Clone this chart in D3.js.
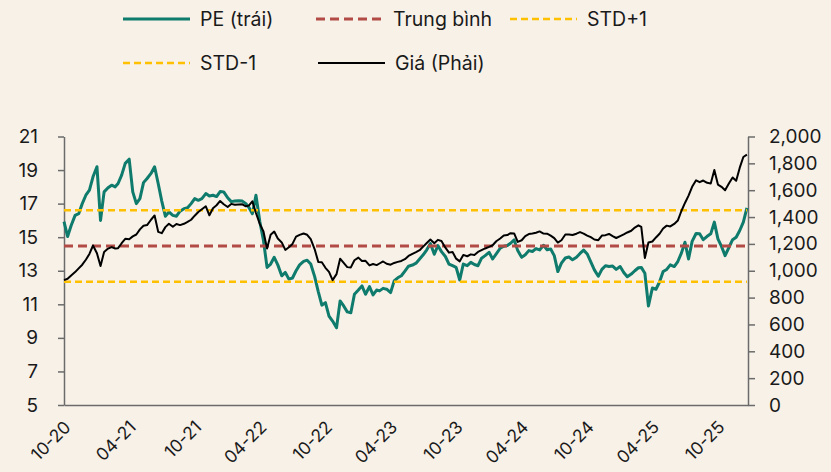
<!DOCTYPE html>
<html><head><meta charset="utf-8">
<script src="https://cdn.jsdelivr.net/npm/d3@7"></script>
<style>
html,body{margin:0;padding:0;background:#F7F1E8;}
svg{display:block;}
text{font-family:Inter,"Noto Sans",sans-serif;fill:#1a1a1a;}
</style></head>
<body>
<svg id="chart" width="831" height="472"></svg>
<script>
const dates = [
"2020-10-01","2020-10-11","2020-10-21","2020-11-01","2020-11-11","2020-11-21","2020-12-01","2020-12-11","2020-12-21",
"2021-01-01","2021-01-11","2021-01-21","2021-02-01","2021-02-11","2021-02-21","2021-03-01","2021-03-11","2021-03-21",
"2021-04-01","2021-04-11","2021-04-21","2021-05-01","2021-05-11","2021-05-21","2021-06-01","2021-06-11","2021-06-21",
"2021-07-01","2021-07-11","2021-07-21","2021-08-01","2021-08-11","2021-08-21","2021-09-01","2021-09-11","2021-09-21",
"2021-10-01","2021-10-11","2021-10-21","2021-11-01","2021-11-11","2021-11-21","2021-12-01","2021-12-11","2021-12-21",
"2022-01-01","2022-01-11","2022-01-21","2022-02-01","2022-02-11","2022-02-21","2022-03-01","2022-03-11","2022-03-21",
"2022-04-01","2022-04-11","2022-04-21","2022-05-01","2022-05-11","2022-05-21","2022-06-01","2022-06-11","2022-06-21",
"2022-07-01","2022-07-11","2022-07-21","2022-08-01","2022-08-11","2022-08-21","2022-09-01","2022-09-11","2022-09-21",
"2022-10-01","2022-10-11","2022-10-21","2022-11-01","2022-11-11","2022-11-21","2022-12-01","2022-12-11","2022-12-21",
"2023-01-01","2023-01-11","2023-01-21","2023-02-01","2023-02-11","2023-02-21","2023-03-01","2023-03-11","2023-03-21",
"2023-04-01","2023-04-11","2023-04-21","2023-05-01","2023-05-11","2023-05-21","2023-06-01","2023-06-11","2023-06-21",
"2023-07-01","2023-07-11","2023-07-21","2023-08-01","2023-08-11","2023-08-21","2023-09-01","2023-09-11","2023-09-21",
"2023-10-01","2023-10-11","2023-10-21","2023-11-01","2023-11-11","2023-11-21","2023-12-01","2023-12-11","2023-12-21",
"2024-01-01","2024-01-11","2024-01-21","2024-02-01","2024-02-11","2024-02-21","2024-03-01","2024-03-11","2024-03-21",
"2024-04-01","2024-04-11","2024-04-21","2024-05-01","2024-05-11","2024-05-21","2024-06-01","2024-06-11","2024-06-21",
"2024-07-01","2024-07-11","2024-07-21","2024-08-01","2024-08-11","2024-08-21","2024-09-01","2024-09-11","2024-09-21",
"2024-10-01","2024-10-11","2024-10-21","2024-11-01","2024-11-11","2024-11-21","2024-12-01","2024-12-11","2024-12-21",
"2025-01-01","2025-01-11","2025-01-21","2025-02-01","2025-02-11","2025-02-21","2025-03-01","2025-03-11","2025-03-21",
"2025-04-01","2025-04-11","2025-04-21","2025-05-01","2025-05-11","2025-05-21","2025-06-01","2025-06-11","2025-06-21",
"2025-07-01","2025-07-11","2025-07-21","2025-08-01","2025-08-11","2025-08-21","2025-09-01","2025-09-11","2025-09-21",
"2025-10-01","2025-10-11","2025-10-21","2025-11-01","2025-11-11","2025-11-21","2025-12-01","2025-12-11","2025-12-21"
];

const pe = [
15.93,15.04,15.7, 16.3,16.4,17.0, 17.5,17.8,18.6,
19.2,16.0,17.7, 17.95,18.1,18.0, 18.2,18.7,19.4,
19.65,17.7,17.0, 17.3,18.25,18.5, 18.8,19.2,18.2,
17.15,16.25,16.5, 16.3,16.25,16.55, 16.7,16.75,17.0,
17.3,17.2,17.3, 17.6,17.45,17.5, 17.42,17.72,17.7,
17.35,17.12,17.15, 17.17,17.15,17.0, 16.78,16.4,17.5,
15.9,14.8,13.2, 13.4,13.8,13.35, 12.7,12.9,12.5,
12.57,13.0,13.35, 13.56,13.63,13.4, 12.65,11.76,10.95,
11.1,10.3,10.0, 9.6,11.2,10.9, 10.55,10.5,11.6,
11.85,12.1,11.6, 12.05,11.56,11.85, 11.8,11.95,11.9,
11.7,12.4,12.58, 12.7,12.98,13.27, 13.34,13.45,13.7,
13.95,14.25,14.62, 13.98,14.5,14.14, 13.85,13.4,13.3,
13.2,12.45,13.4, 13.3,13.5,13.37, 13.3,13.75,13.9,
14.1,13.7,14.0, 14.34,14.46,14.5, 14.64,14.84,14.2,
13.8,13.95,14.2, 14.15,14.32,14.24, 14.52,14.25,14.3,
13.9,12.95,13.45, 13.76,13.82,13.65, 13.8,14.03,14.23,
14.0,13.53,13.05, 12.67,13.08,13.3, 13.25,13.28,13.08,
13.25,12.9,12.64, 12.8,13.0,13.18, 13.2,12.85,10.9,
11.97,11.9,12.33, 12.95,13.08,13.35, 13.25,13.55,14.05,
14.7,13.7,14.75, 15.22,15.2,14.85, 15.05,15.2,15.9,
14.9,14.45,13.9, 14.4,14.85,15.0, 15.4,15.9,16.75
];

const price = [
930,940,965, 990,1018,1045, 1082,1125,1188,
1130,1035,1140, 1165,1176,1166, 1168,1205,1238,
1235,1256,1270, 1308,1335,1340, 1380,1412,1290,
1280,1325,1350, 1328,1348,1340, 1350,1364,1380,
1410,1438,1458, 1480,1413,1466, 1488,1520,1495,
1475,1498,1492, 1494,1495,1480, 1485,1517,1430,
1347,1292,1165, 1268,1292,1240, 1211,1155,1175,
1200,1254,1267, 1277,1268,1235, 1160,1066,1063,
1022,992,930, 975,1090,1058, 1027,1025,1078,
1098,1072,1074, 1040,1050,1042, 1054,1069,1052,
1045,1058,1066, 1073,1086,1110, 1126,1139,1153,
1180,1207,1232, 1205,1230,1222, 1172,1135,1140,
1090,1070,1118, 1108,1122,1118, 1140,1153,1166,
1178,1190,1220, 1240,1262,1266, 1280,1278,1215,
1227,1258,1273, 1277,1283,1293, 1277,1276,1262,
1243,1210,1227, 1270,1270,1266, 1276,1288,1277,
1262,1250,1233, 1228,1262,1265, 1274,1258,1244,
1258,1271,1285, 1298,1322,1338, 1326,1095,1210,
1218,1248,1276, 1315,1336,1330, 1349,1374,1445,
1505,1560,1625, 1674,1660,1672, 1655,1650,1750,
1642,1625,1600, 1652,1695,1670, 1768,1847,1865
];

const peMean = 14.48;
const peStdUp = 16.61;
const peStdDown = 12.35;

const xTickDates = ["2020-10-01","2021-04-01","2021-10-01","2022-04-01","2022-10-01","2023-04-01","2023-10-01","2024-04-01","2024-10-01","2025-04-01","2025-10-01"];
const xTickLabels = ["10-20","04-21","10-21","04-22","10-22","04-23","10-23","04-24","10-24","04-25","10-25"];
const leftTicks = [5,7,9,11,13,15,17,19,21];
const rightTicks = [0,200,400,600,800,1000,1200,1400,1600,1800,2000];

const legendRows = [
  [{name:"PE (trái)",key:"pe"},{name:"Trung bình",key:"mean"},{name:"STD+1",key:"up"}],
  [{name:"STD-1",key:"down"},{name:"Giá (Phải)",key:"price"}]
];

const styles = {
  pe:{color:"#0F7B6C",width:3,dash:null},
  mean:{color:"#B24A45",width:3,dash:"9,5"},
  up:{color:"#FFC000",width:2.5,dash:"7,4"},
  down:{color:"#FFC000",width:2.5,dash:"7,4"},
  price:{color:"#000000",width:2,dash:null}
};

const svg = d3.select("#chart");
const parse = d3.utcParse("%Y-%m-%d");
const X0=64, X1=748, YB=405, YT=136.5;

const x = d3.scaleUtc().domain([parse("2020-10-01"), parse("2025-12-24")]).range([X0,X1]);
const yL = d3.scaleLinear().domain([5,21]).range([YB,YT]);
const yR = d3.scaleLinear().domain([0,2000]).range([YB,YT]);

const peData = dates.map((d,i)=>({d:parse(d),v:pe[i]}));
const prData = dates.map((d,i)=>({d:parse(d),v:price[i]}));

const axisColor = "#6b6b6b";

const gL = svg.append("g").attr("transform",`translate(${X0},0)`)
  .call(d3.axisLeft(yL).tickValues(leftTicks).tickSize(6).tickSizeOuter(0).tickPadding(20));
const gR = svg.append("g").attr("transform",`translate(${X1},0)`)
  .call(d3.axisRight(yR).tickValues(rightTicks).tickSize(7).tickSizeOuter(0).tickPadding(14).tickFormat(d3.format(",")));
[gL,gR].forEach(g=>{
  g.select(".domain").attr("stroke",axisColor).attr("stroke-width",1.5);
  g.selectAll(".tick line").attr("stroke",axisColor).attr("stroke-width",1.5);
  g.selectAll(".tick text").attr("font-size",19).attr("fill","#1a1a1a").style("font-family","Inter");
});

const gB = svg.append("g").attr("transform",`translate(0,${YB})`)
  .call(d3.axisBottom(x).tickValues(xTickDates.map(parse)).tickSize(0).tickSizeOuter(0)
    .tickFormat((d,i)=>xTickLabels[i]));
gB.select(".domain").attr("stroke",axisColor).attr("stroke-width",1.5);
gB.selectAll(".tick text")
  .attr("font-size",17.5).style("font-family","Inter").attr("fill","#1a1a1a")
  .attr("text-anchor","end")
  .attr("transform","translate(3,19) rotate(-45)")
  .attr("dy","0.35em").attr("y",0).attr("x",0);

const lineL = d3.line().x(d=>x(d.d)).y(d=>yL(d.v));
const lineR = d3.line().x(d=>x(d.d)).y(d=>yR(d.v));
svg.append("path").datum(peData).attr("d",lineL)
  .attr("fill","none").attr("stroke",styles.pe.color).attr("stroke-width",styles.pe.width).attr("stroke-linejoin","round");

const refEnd = parse("2025-12-21");
[["mean",peMean],["up",peStdUp],["down",peStdDown]].forEach(([k,v])=>{
  svg.append("path").datum([{d:parse("2020-10-01"),v},{d:refEnd,v}]).attr("d",lineL)
    .attr("fill","none").attr("stroke",styles[k].color).attr("stroke-width",styles[k].width)
    .attr("stroke-dasharray",styles[k].dash);
});

svg.append("path").datum(prData).attr("d",lineR)
  .attr("fill","none").attr("stroke",styles.price.color).attr("stroke-width",styles.price.width).attr("stroke-linejoin","round");

const legX = [[123,316,510],[123,318]];
const legY = [19,63];
legendRows.forEach((row,ri)=>{
  row.forEach((it,ci)=>{
    const s = styles[it.key];
    const lx = legX[ri][ci];
    svg.append("line").attr("x1",lx).attr("x2",lx+67).attr("y1",legY[ri]).attr("y2",legY[ri])
      .attr("stroke",s.color).attr("stroke-width",s.width).attr("stroke-dasharray",s.dash);
    svg.append("text").attr("x",lx+77).attr("y",legY[ri]).attr("dy","0.35em")
      .attr("font-size",19.5).text(it.name);
  });
});
</script>
</body></html>
